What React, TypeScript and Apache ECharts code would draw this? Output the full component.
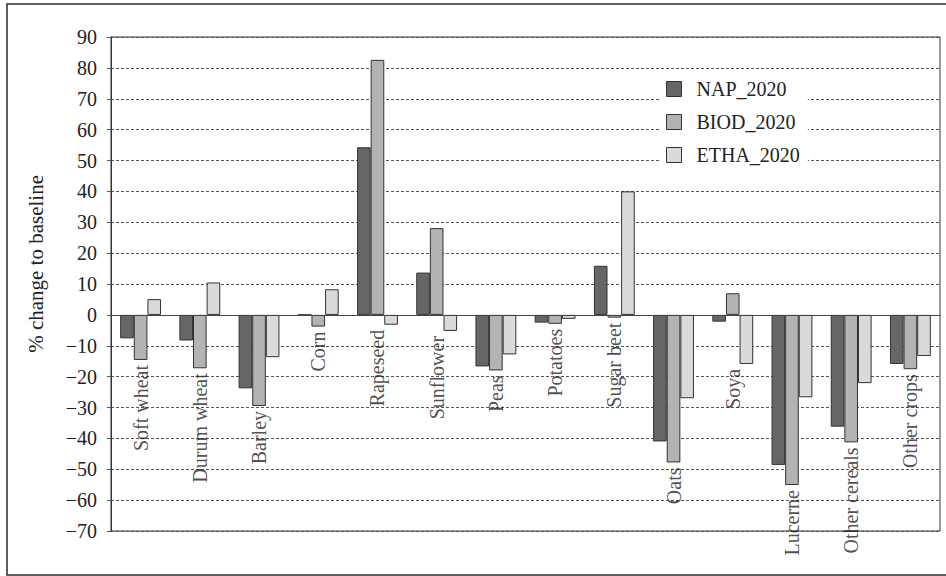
import React, { useEffect, useRef } from "react";
import * as echarts from "echarts";

const categories = [
  "Soft wheat", "Durum wheat", "Barley", "Corn", "Rapeseed", "Sunflower", "Peas",
  "Potatoes", "Sugar beet", "Oats", "Soya", "Lucerne", "Other cereals", "Other crops",
];
const nap2020 = [-7.6, -8.3, -23.8, 0, 54.3, 13.7, -16.7, -2.5, 15.9, -41.0, -2.2, -48.6, -36.2, -15.9];
const biod2020 = [-14.6, -17.3, -29.5, -3.8, 82.6, 28.1, -18.0, -2.9, -0.9, -47.8, 7.0, -55.1, -41.3, -17.6];
const etha2020 = [5.1, 10.5, -13.7, 8.3, -3.2, -5.2, -12.8, -1.3, 40.0, -27.0, -15.9, -26.7, -22.1, -13.3];
const seriesNames = ["NAP_2020", "BIOD_2020", "ETHA_2020"];
const seriesColors = ["#666666", "#b3b3b3", "#dadada"];
const yMin = -70;
const yMax = 90;
const yStep = 10;
const yTitle = "% change to baseline";

const FONT = "Liberation Serif";

export default function App() {
  const ref = useRef<HTMLDivElement>(null);
  useEffect(() => {
    if (!ref.current) return;
    const chart = echarts.init(ref.current, undefined, { renderer: "svg" });
    const allSeries = [nap2020, biod2020, etha2020];
    const labelAnchors = categories.map((_, i) => [
      i,
      Math.min(0, nap2020[i], biod2020[i], etha2020[i]),
    ]);
    chart.setOption({
      animation: false,
      graphic: [
        {
          type: "rect",
          shape: { x: 7, y: 4, width: 960, height: 571 },
          style: { fill: "none", stroke: "#2a2a2a", lineWidth: 1.5 },
          silent: true,
        },
        {
          type: "text",
          x: 25,
          y: 175,
          rotation: Math.PI / 2,
          style: {
            text: yTitle,
            fontFamily: FONT,
            fontSize: 21,
            fill: "#222",
            align: "right",
          },
        },
      ],
      legend: {
        data: seriesNames,
        orient: "vertical",
        left: 660,
        top: 74,
        padding: [5, 8, 5, 6],
        backgroundColor: "#ffffff",
        itemWidth: 15,
        itemHeight: 15,
        itemGap: 13,
        icon: "rect",
        itemStyle: { borderColor: "#333", borderWidth: 1 },
        textStyle: { fontFamily: FONT, fontSize: 20, color: "#222", padding: [0, 0, 0, 10] },
      },
      grid: {
        left: 111,
        top: 37,
        right: 6,
        bottom: 45,
        show: true,
        borderColor: "#333",
        borderWidth: 1,
        backgroundColor: "transparent",
        containLabel: false,
      },
      xAxis: {
        type: "category",
        data: categories,
        axisLine: { onZero: true, lineStyle: { color: "#444", width: 1 } },
        axisTick: { show: false },
        axisLabel: { show: false },
        splitLine: { show: false },
        z: 5,
      },
      yAxis: {
        type: "value",
        min: yMin,
        max: yMax,
        interval: yStep,
        axisLine: { show: true, lineStyle: { color: "#333" } },
        axisTick: { show: true, length: 4, lineStyle: { color: "#555" } },
        axisLabel: {
          fontFamily: FONT,
          fontSize: 20,
          color: "#222",
          margin: 14,
          formatter: (v: number) => (v < 0 ? "\u2212" + Math.abs(v) : String(v)),
        },
        splitLine: { show: true, lineStyle: { color: "#555", type: [3, 2], width: 1 } },
      },
      series: [
        ...allSeries.map((d, k) => ({
          name: seriesNames[k],
          type: "bar",
          data: d,
          barGap: "0%",
          barCategoryGap: "31%",
          itemStyle: { color: seriesColors[k], borderColor: "#333", borderWidth: 1 },
          z: 3,
        })),
        {
          name: "labels",
          type: "scatter",
          data: labelAnchors,
          symbolSize: 0,
          silent: true,
          z: 6,
          label: {
            show: true,
            formatter: (p: any) => categories[p.dataIndex],
            position: "bottom",
            distance: 5,
            rotate: 90,
            align: "right",
            verticalAlign: "middle",
            fontFamily: FONT,
            fontSize: 20,
            color: "#222",
          },
        },
      ],
    });
    return () => chart.dispose();
  }, []);
  return (
    <div
      ref={ref}
      style={{ position: "fixed", left: 0, top: 0, width: 946, height: 576, background: "#fff" }}
    />
  );
}
